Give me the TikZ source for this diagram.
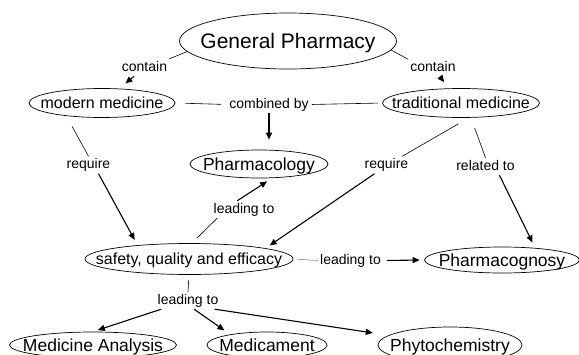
\documentclass[tikz,border=0pt]{standalone}
\usepackage{fontspec}
\setmainfont{Liberation Sans}
\usetikzlibrary{shapes.geometric,arrows.meta}
\newcommand\cmtext[1]{\makebox[0pt]{\raisebox{-0.36em}[0pt][0pt]{#1}}}
\begin{document}
\begin{tikzpicture}[x=1pt,y=-1pt,
  concept/.style={draw, ellipse, inner sep=0pt, line width=0.7pt},
  cfont/.style={font=\fontsize{16}{18}\selectfont},
  cbig/.style={font=\fontsize{17.5}{20}\selectfont},
  lbl/.style={inner sep=2pt, font=\fontsize{14}{16}\selectfont, text height=10pt, text depth=3pt},
  thinln/.style={line width=0.6pt},
  arr/.style={line width=1.1pt, -{Triangle[length=7pt,width=6pt]}}]
\useasboundingbox (0,0) rectangle (579,354);
% concepts
\node[concept, minimum width=217pt, minimum height=56pt, font=\fontsize{21}{24}\selectfont] (gp) at (288,41) {\cmtext{General Pharmacy}};
\node[concept, cfont, minimum width=146pt, minimum height=29pt] (mm) at (102,103) {\cmtext{modern medicine}};
\node[concept, cfont, minimum width=157pt, minimum height=29pt] (tm) at (461,103) {\cmtext{traditional medicine}};
\node[concept, cbig, minimum width=138pt, minimum height=28pt] (ph) at (259,164) {\cmtext{Pharmacology}};
\node[concept, cfont, minimum width=208pt, minimum height=31pt] (saf) at (189,259) {\cmtext{safety, quality and efficacy}};
\node[concept, cbig, minimum width=155pt, minimum height=26pt] (pg) at (502,260) {\cmtext{Pharmacognosy}};
\node[concept, cbig, minimum width=167pt, minimum height=26pt] (ma) at (93,345) {\cmtext{Medicine Analysis}};
\node[concept, cbig, minimum width=120pt, minimum height=26pt] (med) at (267,345) {\cmtext{Medicament}};
\node[concept, cbig, minimum width=144pt, minimum height=36pt] (phy) at (450,345) {\cmtext{Phytochemistry}};
% linking phrases
\node[lbl] (c1) at (144.5,67.5) {contain};
\node[lbl] (c2) at (433,68) {contain};
\node[lbl] (cb) at (269,104.5) {combined by};
\node[lbl] (r1) at (88.5,165) {require};
\node[lbl] (r2) at (386.5,165) {require};
\node[lbl] (rel) at (485.5,166.5) {related to};
\node[lbl] (l1) at (244,209.5) {leading to};
\node[lbl] (l2) at (350.5,260.5) {leading to};
\node[lbl] (l3) at (188,300.5) {leading to};
% connectors
\draw[thinln] (gp.186) -- (c1.north east);
\draw[arr, shorten >=8pt] (c1) -- (mm);
\draw[thinln] (gp.-5) -- (c2.north west);
\draw[arr, shorten >=8pt] (c2) -- (tm);
\draw[thinln, shorten <=10pt, shorten >=6pt] (mm.east) -- (cb.west);
\draw[thinln, shorten <=1pt, shorten >=4pt] (cb.east) -- (tm.west);
\draw[arr, shorten >=10pt] (cb.south) -- (cb.south |- ph.north);
\draw[thinln, shorten <=12pt] (mm.200) -- (r1.north);
\draw[arr, shorten >=6pt] (r1.-41) -- (saf.165);
\draw[thinln, shorten <=12pt] (tm.-62) -- (r2.29);
\draw[arr, shorten >=5pt] (r2.216) -- (saf.8);
\draw[thinln, shorten <=11pt] (tm.-56) -- (rel.north);
\draw[arr, shorten >=6pt] (rel.-32) -- (pg.20);
\draw[thinln, shorten <=7pt] (saf.80) -- (l1.198);
\draw[arr, shorten >=6pt] (l1.128) -- (ph.-47);
\draw[thinln, gray, shorten <=4pt] (saf.east) -- (l2.west);
\draw[arr, shorten <=4pt, shorten >=4.5pt] (l2.east) -- (pg.west);
\draw[thinln, shorten <=5pt] (saf.south) -- (l3.north);
\draw[arr, shorten >=5pt] (l3.198) -- (ma.north);
\draw[arr, shorten >=7pt] (l3.-55) -- (med.164);
\draw[arr, shorten >=16pt] (l3.-18) -- (phy.171);
\end{tikzpicture}
\end{document}
